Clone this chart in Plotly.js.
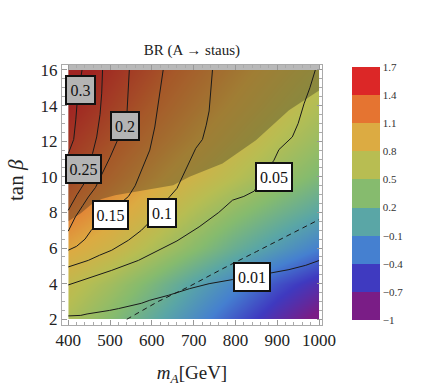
<!DOCTYPE html>
<html>
<head>
<meta charset="utf-8">
<script src="https://cdn.plot.ly/plotly-3.0.1.min.js"></script>
<style>html,body{margin:0;padding:0;background:#fff;}#chart{width:447px;height:391px;}</style>
</head>
<body>
<div id="chart"></div>
<script>
// ---------- data ----------
// background colour field
const gridMA   = [400, 500, 600, 700, 800, 900, 1000];
const gridTanb = [2, 4, 6, 8, 10, 12, 14, 16];
const fieldZ = [
  [0.58, 0.35, 0.10, -0.15, -0.42, -0.68, -0.92],
  [0.72, 0.52, 0.28,  0.03, -0.20, -0.45, -0.65],
  [0.98, 0.82, 0.60,  0.38,  0.15, -0.05, -0.25],
  [1.20, 1.02, 0.82,  0.60,  0.40,  0.22,  0.05],
  [1.35, 1.18, 1.00,  0.82,  0.65,  0.47,  0.30],
  [1.45, 1.30, 1.13,  0.97,  0.80,  0.63,  0.47],
  [1.55, 1.40, 1.24,  1.08,  0.92,  0.76,  0.60],
  [1.63, 1.48, 1.33,  1.18,  1.02,  0.87,  0.72]
];

// BR contour lines
const br030_x = [400, 405, 413, 418, 421, 426, 433];
const br030_y = [11.3, 11.6, 12.1, 13.2, 14.1, 15.0, 16];
const br025_x = [400, 421, 440, 452, 458, 468, 476, 480, 482];
const br025_y = [8.12, 9.0, 9.7, 10.5, 11.3, 12.24, 13.5, 14.7, 16];
const br020_x = [400, 417, 435, 448, 465, 480, 500, 516, 530, 540, 543, 546];
const br020_y = [6.95, 7.75, 8.4, 8.87, 9.4, 10.1, 11.1, 11.96, 12.7, 13.4, 14.6, 16];
const br015_x = [400, 420, 440, 455, 480, 510, 544, 560, 575, 595, 607, 617, 627];
const br015_y = [5.88, 6.1, 6.5, 7.0, 7.6, 8.2, 8.9, 9.5, 10.4, 11.5, 12.8, 14.3, 16];
const br010_x = [400, 448, 475, 504, 544, 575, 591, 610, 642, 660, 675, 690, 705, 721, 730, 737, 742, 745];
const br010_y = [4.94, 5.31, 5.6, 5.88, 6.44, 7.0, 7.38, 8.0, 8.87, 9.35, 10.1, 10.9, 11.6, 12.1, 12.9, 13.7, 14.9, 16];
const br005_x = [400, 448, 504, 568, 615, 660, 713, 760, 793, 820, 845, 870, 892, 904, 936, 950, 964, 978, 991];
const br005_y = [3.93, 4.29, 4.75, 5.31, 5.88, 6.4, 7.19, 8.0, 8.69, 8.9, 9.2, 10.2, 10.93, 11.53, 12.24, 13.0, 14.1, 15.0, 16];
const br001_x = [400, 430, 445, 470, 499, 520, 551, 575, 595, 640, 690, 737, 793, 840, 884, 928, 968, 1000];
const br001_y = [2.19, 2.22, 2.3, 2.38, 2.5, 2.6, 2.79, 2.9, 3.07, 3.35, 3.72, 4.0, 4.23, 4.4, 4.6, 4.79, 5.03, 5.3];

// dashed line
const dashed_x = [540, 615, 690, 770, 850, 1000];
const dashed_y = [2.0, 3.0, 3.85, 4.85, 5.8, 7.6];

// shaded (excluded) region lower boundary
const excl_x = [400, 430, 455, 480, 512, 545, 583, 651, 690, 769, 849, 928, 1000];
const excl_y = [7.5, 7.95, 8.45, 8.75, 8.97, 9.1, 9.25, 9.53, 10.0, 10.75, 12.06, 13.74, 14.85];

// contour labels
const labelText = ['0.3', '0.25', '0.2', '0.15', '0.1', '0.05', '0.01'];
const labelMA   = [430, 437, 535, 500, 625, 893, 839];
const labelTanb = [14.87, 10.44, 12.84, 7.84, 7.96, 9.99, 4.38];
const labelShaded = [true, true, true, false, false, false, false];

// colour bar
const cbTicks = [-1, -0.7, -0.4, -0.1, 0.2, 0.5, 0.8, 1.1, 1.4, 1.7];
const cbTickText = ['\u22121', '\u22120.7', '\u22120.4', '\u22120.1', '0.2', '0.5', '0.8', '1.1', '1.4', '1.7'];
const bandColors = ['#7a1d86', '#3f3ac0', '#4580d0', '#5aa6a6', '#86bb6e', '#b8bd52', '#dcab42', '#e57431', '#dc2727'];

// ---------- build ----------
const zmin = -1, zmax = 1.7;
const smoothScale = [[0, bandColors[0]]];
bandColors.forEach((c, i) => smoothScale.push([(i + 0.5) / bandColors.length, c]));
smoothScale.push([1, bandColors[bandColors.length - 1]]);
const stepScale = [];
bandColors.forEach((c, i) => {
  stepScale.push([i / bandColors.length, c]);
  stepScale.push([(i + 1) / bandColors.length, c]);
});

const serif = 'Liberation Serif, Times New Roman, serif';
// plot area in pixels: x 62..322, y 65..325
const PW = 260, PH = 260, PL = 62, PB = 325;

const traces = [];
traces.push({
  type: 'contour', x: gridMA, y: gridTanb, z: fieldZ,
  zmin: zmin, zmax: zmax, zauto: false,
  colorscale: smoothScale, showscale: false,
  contours: {coloring: 'heatmap', showlines: false},
  line: {width: 0}, hoverinfo: 'skip'
});
traces.push({
  type: 'scatter', mode: 'lines',
  x: excl_x.concat([1000, 400]), y: excl_y.concat([16, 16]),
  fill: 'toself', fillcolor: 'rgba(35,30,25,0.32)', line: {width: 0},
  showlegend: false, hoverinfo: 'skip'
});
const lines = [[br030_x, br030_y], [br025_x, br025_y], [br020_x, br020_y], [br015_x, br015_y],
               [br010_x, br010_y], [br005_x, br005_y], [br001_x, br001_y]];
lines.forEach(([lx, ly]) => traces.push({
  type: 'scatter', mode: 'lines', x: lx, y: ly,
  line: {color: '#1a1a1a', width: 1}, showlegend: false, hoverinfo: 'skip'
}));
traces.push({
  type: 'scatter', mode: 'lines', x: dashed_x, y: dashed_y,
  line: {color: '#1a1a1a', width: 1, dash: '5px,4px'}, showlegend: false, hoverinfo: 'skip'
});
traces.push({
  type: 'scatter', mode: 'markers', x: [null], y: [null],
  marker: {
    color: [0], cmin: zmin, cmax: zmax, colorscale: stepScale, showscale: true,
    colorbar: {
      xref: 'paper', x: (351.5 - PL) / PW, xanchor: 'left', xpad: 0,
      yref: 'paper', y: (PB - 320) / PH, yanchor: 'bottom', ypad: 0,
      thickness: 28, thicknessmode: 'pixels', len: 253 / PH, lenmode: 'fraction',
      outlinewidth: 0, tickvals: cbTicks, ticktext: cbTickText, ticks: '',
      tickfont: {family: serif, size: 11, color: '#333'}
    }
  },
  showlegend: false, hoverinfo: 'skip'
});

const labelWidth = {'0.3': 23, '0.25': 29, '0.2': 22, '0.15': 29, '0.1': 22, '0.05': 30, '0.01': 30};
const annotations = labelText.map((t, i) => ({
  x: labelMA[i], y: labelTanb[i], xref: 'x', yref: 'y', text: t, showarrow: false,
  font: {family: serif, size: 16, color: '#111'},
  width: labelWidth[t], height: 22, align: 'center', valign: 'middle',
  bgcolor: labelShaded[i] ? '#b4b4b4' : '#ffffff',
  bordercolor: '#111', borderwidth: 2, borderpad: 2
}));
annotations.push({
  xref: 'paper', yref: 'paper', x: (16 - PL) / PW, y: (PB - 180) / PH,
  xanchor: 'center', yanchor: 'middle',
  text: 'tan <i>β</i>', textangle: -90,
  showarrow: false, font: {family: serif, size: 21, color: '#222'}
});

const axisCommon = {
  showline: true, linecolor: '#aaa', linewidth: 1, mirror: 'allticks',
  ticks: 'inside', ticklen: 5, tickcolor: '#999', tickwidth: 1,
  showgrid: false, zeroline: false, fixedrange: true,
  tickfont: {family: serif, size: 17, color: '#222'}
};

const layout = {
  width: 447, height: 391,
  margin: {l: 62, r: 125, t: 65, b: 66},
  paper_bgcolor: '#fff', plot_bgcolor: '#fff',
  title: {text: 'BR (A \u2192 staus)', font: {family: serif, size: 15, color: '#222'},
          x: 0.5, xref: 'paper', xanchor: 'center', y: 1 - 49.5 / 391, yanchor: 'middle'},
  xaxis: Object.assign({}, axisCommon, {
    range: [385, 1007], tick0: 400, dtick: 100,
    minor: {ticks: 'inside', ticklen: 3, dtick: 20, tick0: 400, tickcolor: '#aaa'},
    title: {text: '<i>m</i><sub><i>A</i></sub>[GeV]', font: {family: serif, size: 19, color: '#222'}, standoff: 16}
  }),
  yaxis: Object.assign({}, axisCommon, {
    range: [1.68, 16.28], tick0: 2, dtick: 2,
    minor: {ticks: 'inside', ticklen: 3, dtick: 0.5, tick0: 2, tickcolor: '#aaa'}
  }),
  shapes: [{type: 'rect', xref: 'x', yref: 'y', x0: 400, x1: 1000, y0: 16, y1: 16.28,
            fillcolor: '#b8b8b8', line: {width: 0}, layer: 'below'}],
  annotations: annotations,
  showlegend: false
};

Plotly.newPlot('chart', traces, layout, {staticPlot: true, displayModeBar: false});
</script>
</body>
</html>
